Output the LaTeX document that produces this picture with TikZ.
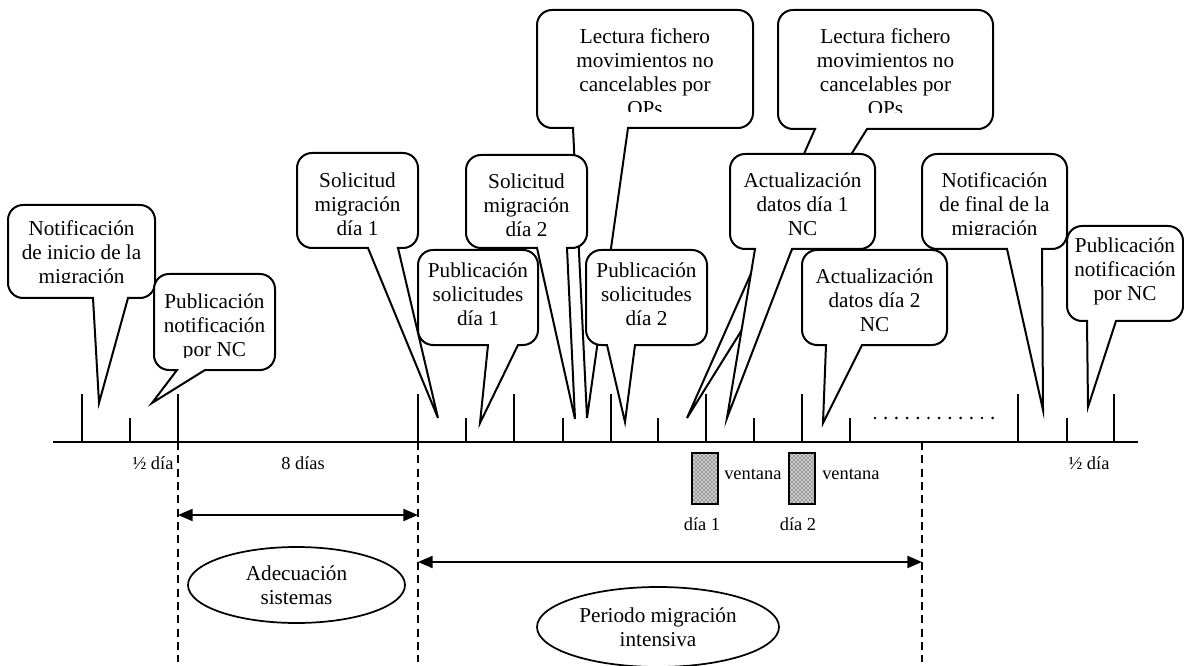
\documentclass[tikz,border=0pt]{standalone}
\usepackage{fontspec}
\setmainfont{Liberation Serif}
\usetikzlibrary{arrows.meta,shapes.geometric,patterns}
% callout shape: L T R B pL pR tipx tipy
\newcommand\calloutshape[8]{%
  \def\clL{#1}\def\clT{#2}\def\clR{#3}\def\clB{#4}%
  \draw[callout] ({(#1+#3)/2},#2) [rounded corners=11.25pt] -- (#1,#2) -- (#1,#4)
    [sharp corners] -- (#5,#4) -- (#7,#8) -- (#6,#4)
    [rounded corners=11.25pt] -- (#3,#4) -- (#3,#2) -- cycle;}
% callout text: [clip inset], name, first baseline, text
\newcommand\callouttext[4][10]{%
  \begin{scope}
    \clip (\clL,\clT) rectangle (\clR,\clB-#1);
    \node[ctxt] (#2) at ({(\clL+\clR)/2},#3-16) {\rule{0pt}{12pt}#4};
  \end{scope}}
\begin{document}
\begin{tikzpicture}[x=0.75pt,y=-0.75pt,
  callout/.style={draw=black, line width=1.5pt, fill=white, line join=miter},
  ctxt/.style={anchor=north, inner sep=0pt, align=center, font=\fontsize{15.9pt}{18pt}\selectfont},
  lbl/.style={inner sep=0pt, font=\fontsize{13.8pt}{16pt}\selectfont},
  tickline/.style={line width=1.3pt},
  axisline/.style={line width=1.6pt},
  guideline/.style={line width=1.3pt, dash pattern=on 6pt off 4pt},
  spanarrow/.style={line width=1.6pt, {Triangle[length=11pt,width=9pt]}-{Triangle[length=11pt,width=9pt]}},
  ovalnode/.style={draw, ellipse, line width=1.3pt, inner sep=0pt, align=center, font=\fontsize{15.9pt}{18pt}\selectfont}]
\useasboundingbox (0,0) rectangle (1184,666);

% dashed guides
\foreach \x in {178,418,922} \draw[guideline] (\x,442) -- (\x,662);
% axis and ticks
\draw[axisline] (53,442) -- (1138,442);
\foreach \x in {82,178,418,514,611,706,802,1018,1114} \draw[tickline] (\x,442) -- (\x,394);
\foreach \x in {130,466,563,658,754,850,1067} \draw[tickline] (\x,442) -- (\x,418);
% dotted continuation
\foreach \i in {0,...,11} \fill (875+\i*10.7,418) circle (1.1pt);

% axis labels
\node[lbl] (half1) at (153,463) {½ día};
\node[lbl] (eight) at (303,463) {8 días};
\node[lbl] (half2) at (1089,463) {½ día};

% spans
\coordinate (adL) at (178,515);
\coordinate (adR) at (418,515);
\draw[spanarrow] (adL) -- (adR);
\coordinate (pmL) at (418,562);
\coordinate (pmR) at (922,562);
\draw[spanarrow] (pmL) -- (pmR);

\node[ovalnode, minimum width=162.75pt, minimum height=57pt] (adec) at (296.5,585) {Adecuación\\sistemas};
\node[ovalnode, minimum width=181.5pt, minimum height=60pt] (period) at (658,627) {Periodo migración\\intensiva};

% ventana boxes
\fill[gray!40] (692,453) rectangle (718,504);
\draw[line width=1.5pt, pattern=crosshatch dots, pattern color=black] (692,453) rectangle (718,504);
\fill[gray!40] (789,453) rectangle (815,504);
\draw[line width=1.5pt, pattern=crosshatch dots, pattern color=black] (789,453) rectangle (815,504);
\node[lbl, anchor=west] (ven1) at (724,474) {ventana};
\node[lbl, anchor=west] (ven2) at (822,474) {ventana};
\node[lbl] (dia1) at (702,524) {día 1};
\node[lbl] (dia2) at (798,524) {día 2};

% callouts (drawing order matters)
\calloutshape{8}{205}{155}{298}{93}{128}{99}{403}
\callouttext[15]{notini}{235}{Notificación\\de inicio de la\\migración}

\calloutshape{154}{274}{275}{370}{177}{205}{152}{403}
\callouttext[13]{pubnot1}{308}{Publicación\\notificación\\por NC}

\calloutshape{297}{153}{418}{248}{368}{398}{438}{418}
\callouttext{sol1}{187}{Solicitud\\migración\\día 1}

\calloutshape{418}{250}{538}{345}{488}{518}{480}{423}
\callouttext{pubsol1}{277}{Publicación\\solicitudes\\día 1}

\calloutshape{537}{10}{753}{128}{573}{628}{587}{418}
\callouttext[16]{lect1}{43}{Lectura fichero\\movimientos no\\cancelables por\\OPs}

\calloutshape{466}{155}{587}{248}{537}{567}{575}{419}
\callouttext{sol2}{188}{Solicitud\\migración\\día 2}

\calloutshape{586}{250}{707}{345}{607}{635}{625}{422}
\callouttext{pubsol2}{277}{Publicación\\solicitudes\\día 2}

\calloutshape{778}{10}{993}{129}{815}{867}{687}{418}
\callouttext[16]{lect2}{43}{Lectura fichero\\movimientos no\\cancelables por\\OPs}

\calloutshape{730}{154}{875}{249}{755}{792}{727}{418}
\callouttext{act1}{187}{Actualización\\datos día 1\\NC}

\calloutshape{802}{250}{947}{345}{826}{862}{823}{423}
\callouttext{act2}{283}{Actualización\\datos día 2\\NC}

\calloutshape{922}{154}{1067}{249}{1007}{1042}{1043}{410}
\callouttext[14]{notfin}{187}{Notificación\\de final de la\\migración}

\calloutshape{1067}{226}{1183}{321}{1087}{1116}{1088}{407}
\callouttext{pubnot2}{252}{Publicación\\notificación\\por NC}
\end{tikzpicture}
\end{document}
